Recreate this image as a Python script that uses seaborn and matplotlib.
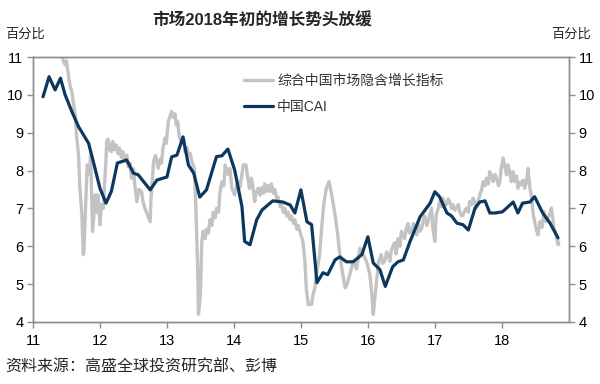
import numpy as np
import pandas as pd
import matplotlib
matplotlib.use("Agg")
import matplotlib.pyplot as plt
import seaborn as sns

# CAI, roughly monthly, x in years since 2000
cai_x = [11.15, 11.24, 11.33, 11.41, 11.48, 11.58, 11.68, 11.83, 11.90, 12.0, 12.09, 12.17,
         12.26, 12.40, 12.50, 12.57, 12.75, 12.85, 13.0, 13.07, 13.15, 13.24, 13.32, 13.40,
         13.49, 13.59, 13.74, 13.82, 13.91, 14.01, 14.12, 14.16, 14.24, 14.34, 14.42, 14.58,
         14.73, 14.84, 14.91, 15.0, 15.09, 15.16, 15.24, 15.33, 15.40, 15.51, 15.58, 15.68,
         15.78, 15.91, 16.0, 16.08, 16.18, 16.26, 16.37, 16.45, 16.53, 16.63, 16.78, 16.93,
         17.0, 17.07, 17.18, 17.25, 17.33, 17.42, 17.50, 17.60, 17.67, 17.75, 17.82, 17.90,
         18.01, 18.17, 18.24, 18.31, 18.42, 18.49, 18.61, 18.72, 18.84]
cai_y = [9.95, 10.48, 10.13, 10.44, 10.0, 9.56, 9.16, 8.72, 8.24, 7.53, 7.14, 7.45,
         8.2, 8.28, 7.93, 7.89, 7.49, 7.75, 7.83, 8.36, 8.41, 8.89, 8.15, 7.93,
         7.30, 7.49, 8.37, 8.39, 8.57, 8.02, 7.05, 6.13, 6.04, 6.70, 6.96, 7.20,
         7.17, 7.09, 6.88, 7.49, 6.65, 6.57, 5.04, 5.30, 5.25, 5.64, 5.72, 5.59,
         5.59, 5.78, 6.25, 5.56, 5.38, 4.94, 5.46, 5.59, 5.64, 6.13, 6.78, 7.14,
         7.44, 7.31, 6.88, 6.80, 6.61, 6.57, 6.43, 7.01, 7.17, 7.20, 6.88, 6.88,
         6.91, 7.17, 6.88, 7.14, 7.17, 7.31, 6.88, 6.61, 6.22]

# market-implied growth indicator
mkt_x = [11.42, 11.45, 11.48, 11.50, 11.53, 11.55, 11.58, 11.60, 11.63, 11.65, 11.68, 11.70,
         11.73, 11.75, 11.76, 11.79, 11.81, 11.84, 11.86, 11.89, 11.93, 11.95, 11.97, 12.00,
         12.02, 12.05, 12.07, 12.09, 12.10, 12.12, 12.13, 12.15, 12.17, 12.19, 12.22, 12.24,
         12.27, 12.29, 12.32, 12.34, 12.37, 12.40, 12.42, 12.45, 12.47, 12.50, 12.52, 12.55,
         12.58, 12.62, 12.64, 12.67, 12.71, 12.75, 12.76, 12.80, 12.83, 12.87, 12.90, 12.92,
         12.94, 12.97, 12.99, 13.02, 13.05, 13.07, 13.10, 13.12, 13.14, 13.16, 13.18, 13.22,
         13.25, 13.27, 13.30, 13.32, 13.35, 13.37, 13.41, 13.43, 13.46, 13.47, 13.50, 13.52,
         13.54, 13.57, 13.59, 13.62, 13.64, 13.67, 13.69, 13.72, 13.74, 13.77, 13.79, 13.82,
         13.85, 13.87, 13.91, 13.94, 13.97, 14.01, 14.04, 14.06, 14.09, 14.12, 14.14, 14.18,
         14.20, 14.23, 14.26, 14.28, 14.31, 14.33, 14.36, 14.39, 14.41, 14.44, 14.46, 14.49,
         14.51, 14.54, 14.56, 14.59, 14.61, 14.64, 14.66, 14.69, 14.71, 14.74, 14.76, 14.79,
         14.81, 14.84, 14.86, 14.89, 14.91, 14.94, 14.96, 15.00, 15.03, 15.06, 15.08, 15.11,
         15.16, 15.18, 15.21, 15.23, 15.28, 15.31, 15.34, 15.38, 15.42, 15.46, 15.51, 15.55,
         15.57, 15.61, 15.66, 15.68, 15.73, 15.78, 15.83, 15.88, 15.93, 15.98, 16.03, 16.06,
         16.08, 16.10, 16.13, 16.16, 16.20, 16.22, 16.25, 16.28, 16.30, 16.33, 16.35, 16.40,
         16.42, 16.45, 16.48, 16.50, 16.55, 16.57, 16.60, 16.62, 16.65, 16.68, 16.70, 16.73,
         16.75, 16.78, 16.80, 16.83, 16.85, 16.88, 16.90, 16.95, 16.97, 17.00, 17.02, 17.05,
         17.07, 17.10, 17.12, 17.15, 17.17, 17.20, 17.22, 17.25, 17.27, 17.30, 17.32, 17.35,
         17.37, 17.40, 17.42, 17.45, 17.47, 17.50, 17.52, 17.55, 17.57, 17.60, 17.62, 17.65,
         17.67, 17.70, 17.72, 17.75, 17.77, 17.80, 17.82, 17.85, 17.87, 17.90, 17.92, 17.95,
         17.97, 17.99, 18.02, 18.04, 18.07, 18.09, 18.12, 18.14, 18.17, 18.19, 18.22, 18.24,
         18.27, 18.29, 18.32, 18.34, 18.37, 18.39, 18.42, 18.44, 18.47, 18.51, 18.54, 18.57,
         18.60, 18.63, 18.66, 18.69, 18.71, 18.74, 18.78, 18.81, 18.84, 18.85]
mkt_y = [11.3, 10.9, 10.8, 10.9, 10.5, 10.26, 10.1, 9.82, 9.47, 8.94, 8.41, 7.54,
         6.83, 5.78, 5.85, 7.28, 8.15, 7.9, 8.41, 6.39, 7.36, 6.9, 7.36, 6.57,
         7.1, 7.0, 7.71, 8.3, 8.77, 8.83, 8.55, 8.7, 8.5, 8.77, 8.55, 8.68,
         8.45, 8.6, 8.35, 8.5, 8.25, 8.41, 8.1, 8.2, 7.8, 8.05, 7.62, 7.18,
         7.5, 7.45, 7.2, 7.01, 6.83, 6.65, 7.2, 8.24, 8.4, 8.06, 8.3, 8.2,
         8.58, 8.86, 8.72, 9.29, 9.45, 9.56, 9.4, 9.5, 9.2, 9.3, 8.94, 8.7,
         8.8, 8.5, 8.6, 8.4, 8.45, 8.24, 8.06, 7.1, 5.34, 4.2, 4.72, 6.13,
         6.4, 6.2, 6.45, 6.35, 6.7, 6.55, 6.9, 6.75, 7.0, 6.9, 7.4, 7.7,
         7.6, 8.15, 7.9, 8.06, 7.53, 7.36, 7.6, 7.71, 7.55, 7.9, 8.15, 8.15,
         7.9, 7.53, 7.8, 7.6, 7.18, 7.4, 7.53, 7.35, 7.55, 7.4, 7.65, 7.45,
         7.6, 7.45, 7.65, 7.4, 7.5, 7.25, 7.3, 7.05, 7.1, 6.9, 7.0, 6.8,
         6.9, 6.7, 6.8, 6.6, 6.7, 6.45, 6.55, 6.3, 6.13, 5.6, 4.9, 4.46,
         4.46, 4.72, 4.9, 5.25, 5.78, 6.48, 7.1, 7.53, 7.71, 7.36, 6.83, 6.3,
         5.95, 5.42, 4.9, 4.95, 5.25, 5.6, 5.4, 5.95, 5.78, 5.6, 5.25, 4.72,
         4.2, 4.55, 5.07, 5.6, 5.78, 5.55, 5.6, 5.85, 5.78, 5.6, 5.9, 6.1,
         5.8, 6.2, 6.0, 6.4, 6.2, 6.45, 6.6, 6.35, 6.4, 6.6, 6.5, 6.3,
         6.6, 6.4, 6.45, 6.7, 6.8, 6.55, 6.65, 7.01, 6.48, 6.13, 6.83, 7.0,
         7.18, 7.05, 7.27, 7.1, 7.1, 7.25, 7.18, 7.0, 7.1, 6.95, 7.01, 7.1,
         6.92, 6.8, 6.83, 6.95, 7.01, 6.9, 7.18, 7.1, 7.27, 7.15, 7.01, 7.2,
         7.36, 7.5, 7.71, 7.6, 7.8, 7.65, 7.97, 7.85, 7.71, 7.9, 7.8, 7.6,
         7.71, 8.06, 8.33, 8.15, 7.89, 8.15, 7.97, 7.71, 7.97, 7.71, 7.85, 7.53,
         7.7, 7.62, 7.75, 7.53, 7.71, 8.06, 7.53, 7.36, 6.83, 6.48, 6.3, 6.65,
         6.5, 6.92, 6.65, 6.75, 6.83, 7.01, 6.48, 6.3, 6.04, 6.1]

x_ticks = [11, 12, 13, 14, 15, 16, 17, 18]
y_ticks = [4, 5, 6, 7, 8, 9, 10, 11]

sns.set_theme(style="white")
plt.rcParams["font.family"] = ["Liberation Sans", "Noto Sans CJK SC"]
plt.rcParams["axes.unicode_minus"] = False

GRAY = "#c3c3c3"
NAVY = "#0c3860"
SPINE = "#8c8c8c"

fig = plt.figure(figsize=(6, 3.84), dpi=100)
ax = fig.add_axes([0.055, 0.1615, 0.893, 0.69])

sns.lineplot(x=mkt_x, y=mkt_y, ax=ax, color=GRAY, lw=2.4, estimator=None,
             label="综合中国市场隐含增长指标")
sns.lineplot(x=cai_x, y=cai_y, ax=ax, color=NAVY, lw=2.3, estimator=None,
             label="中国CAI")

ax.set_xlim(11, 19)
ax.set_ylim(4, 11)
ax.set_xticks(x_ticks)
ax.set_xticklabels([str(t) for t in x_ticks])
ax.set_yticks(y_ticks)
ax.set_xlabel("")
ax.set_ylabel("")
for s in ax.spines.values():
    s.set_color(SPINE)
    s.set_linewidth(1.0)
ax.tick_params(axis="both", direction="out", length=4, width=1, color=SPINE,
               labelsize=10.5, labelcolor="black", pad=3)
ax.tick_params(axis="x", bottom=True, pad=5)
ax.tick_params(axis="y", left=True)

ax2 = ax.twinx()
ax2.set_ylim(4, 11)
ax2.set_yticks(y_ticks)
ax2.tick_params(axis="y", right=True, direction="out", length=4, width=1,
                color=SPINE, labelsize=10.5, labelcolor="black", pad=3)
for s in ax2.spines.values():
    s.set_color(SPINE)
    s.set_linewidth(1.0)

leg = ax.legend(loc="upper left", bbox_to_anchor=(0.37, 0.985), frameon=False,
                fontsize=10, handlelength=2.1, labelspacing=0.9, handletextpad=0.3)
for t in leg.get_texts():
    t.set_color("#333333")

fig.text(0.437, 0.948, "市场2018年初的增长势头放缓", ha="center", va="center",
         fontsize=12, fontweight="bold")
fig.text(0.008, 0.909, "百分比", ha="left", va="center", fontsize=9.5)
fig.text(0.985, 0.909, "百分比", ha="right", va="center", fontsize=9.5)
fig.text(0.008, 0.044, "资料来源：高盛全球投资研究部、彭博", ha="left", va="center",
         fontsize=11.5)

fig.savefig("out.png", dpi=100)
